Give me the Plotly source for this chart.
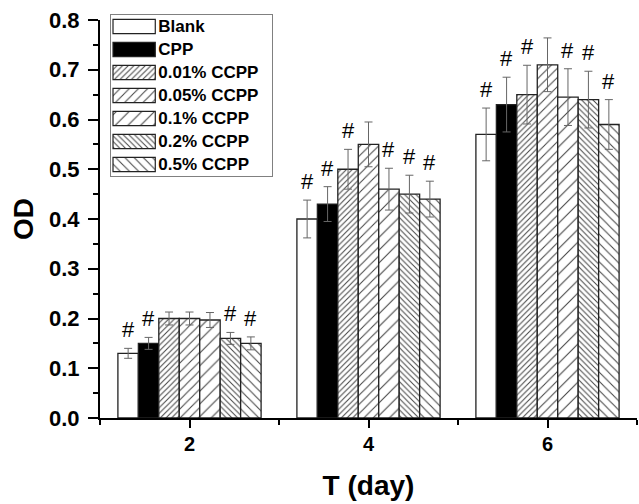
import plotly.graph_objects as go

# ---------------- data ----------------
days = [2, 4, 6]
groups = ["Blank", "CPP", "0.01% CCPP", "0.05% CCPP", "0.1% CCPP", "0.2% CCPP", "0.5% CCPP"]

od_blank = [0.13, 0.40, 0.57]
od_cpp = [0.15, 0.43, 0.63]
od_c001 = [0.20, 0.50, 0.65]
od_c005 = [0.20, 0.55, 0.71]
od_c01 = [0.197, 0.46, 0.645]
od_c02 = [0.16, 0.45, 0.64]
od_c05 = [0.15, 0.44, 0.59]

err_blank = [0.010, 0.038, 0.053]
err_cpp = [0.012, 0.035, 0.055]
err_c001 = [0.013, 0.040, 0.059]
err_c005 = [0.013, 0.045, 0.054]
err_c01 = [0.015, 0.042, 0.057]
err_c02 = [0.012, 0.038, 0.057]
err_c05 = [0.013, 0.036, 0.050]

# significance marks ("#") per group, per day
hash_blank = [True, True, True]
hash_cpp = [True, True, True]
hash_c001 = [False, True, True]
hash_c005 = [False, False, False]
hash_c01 = [False, True, True]
hash_c02 = [True, True, True]
hash_c05 = [True, True, True]

values = [od_blank, od_cpp, od_c001, od_c005, od_c01, od_c02, od_c05]
errors = [err_blank, err_cpp, err_c001, err_c005, err_c01, err_c02, err_c05]
hashes = [hash_blank, hash_cpp, hash_c001, hash_c005, hash_c01, hash_c02, hash_c05]

y_ticks = [0.0, 0.1, 0.2, 0.3, 0.4, 0.5, 0.6, 0.7, 0.8]
x_ticks = [2, 4, 6]

# ---------------- styles ----------------
FONT = "Liberation Sans, Arial, sans-serif"
fill_colors = ["white", "black", "white", "white", "white", "white", "white"]
pat_shapes = ["", "", "/", "/", "/", "\\", "\\"]
pat_sizes = [8, 8, 4, 6.5, 9, 4, 6.5]
pat_solid = [0.3, 0.3, 0.25, 0.16, 0.12, 0.25, 0.16]
BARGAP = 0.2


def bar_marker(col, shp, sz, sol, lw):
    m = dict(color=col, line=dict(color="#222222", width=lw))
    if shp:
        m["pattern"] = dict(shape=shp, size=sz, solidity=sol,
                            fgcolor="#444444", bgcolor=col, fillmode="replace")
    return m


fig = go.Figure()

for name, vals, errs, col, shp, sz, sol in zip(groups, values, errors, fill_colors,
                                               pat_shapes, pat_sizes, pat_solid):
    fig.add_trace(go.Bar(
        x=days, y=vals, name=name,
        marker=bar_marker(col, shp, sz, sol, 1.3),
        error_y=dict(type="data", array=errs, visible=True, color="#666666",
                     thickness=1, width=4),
        showlegend=False,
    ))

# "#" markers above error bars
n = len(groups)
group_width = 2 * (1 - BARGAP)
bar_w = group_width / n
for i, (vals, errs, marks) in enumerate(zip(values, errors, hashes)):
    for d, v, e, m in zip(days, vals, errs, marks):
        if m:
            fig.add_annotation(
                x=d + (i - (n - 1) / 2) * bar_w, y=v + e, xref="x", yref="y",
                text="#", showarrow=False, yanchor="bottom", yshift=4,
                font=dict(family=FONT, size=22, color="black"))

# custom legend drawn on a small overlay axis
for name, col, shp, sz, sol in zip(groups, fill_colors, pat_shapes, pat_sizes, pat_solid):
    fig.add_trace(go.Bar(
        x=[1], y=[name], orientation="h", xaxis="x2", yaxis="y2",
        width=0.62, offsetgroup="legend",
        marker=bar_marker(col, shp, sz, sol, 1.2),
        text=[name], textposition="outside", constraintext="none", cliponaxis=False,
        textfont=dict(family=FONT, size=17, color="black", weight="bold"),
        showlegend=False, hoverinfo="skip",
    ))

H_PLOT = 504 - 15 - 86
fig.update_layout(
    template="none",
    width=639, height=504,
    margin=dict(l=100, r=2, t=15, b=86),
    plot_bgcolor="white", paper_bgcolor="white",
    barmode="group", bargap=BARGAP, bargroupgap=0,
    font=dict(family=FONT, color="black"),
    xaxis=dict(range=[1, 7], tickmode="array", tickvals=x_ticks, ticktext=[str(t) for t in x_ticks],
               automargin=False,
               showline=True, linecolor="black", linewidth=2, showgrid=False, zeroline=False,
               ticks="outside", ticklen=8, tickwidth=2, tickcolor="black",
               ticklabelstandoff=-1,
               minor=dict(tickmode="array", tickvals=[1, 3, 5, 7], ticks="outside", ticklen=5,
                          tickwidth=2, tickcolor="black"),
               tickfont=dict(family=FONT, size=20, color="black", weight="bold"),
               title=dict(text="<b>T (day)</b>", font=dict(family=FONT, size=28, color="black"),
                          standoff=21)),
    yaxis=dict(range=[0, 0.8], domain=[0, 398 / H_PLOT], tickmode="array", tickvals=y_ticks,
               ticktext=[f"{t:.1f}" for t in y_ticks],
               automargin=False,
               showline=True, linecolor="black", linewidth=2, showgrid=False, zeroline=False,
               ticks="outside", ticklen=10, tickwidth=2, tickcolor="black",
               ticklabelstandoff=4,
               minor=dict(dtick=0.05, tick0=0, ticks="outside", ticklen=5, tickwidth=2,
                          tickcolor="black"),
               tickfont=dict(family=FONT, size=22, color="black", weight="bold"),
               title=dict(text="<b>OD</b>", font=dict(family=FONT, size=28, color="black"),
                          standoff=7)),
    xaxis2=dict(domain=[11 / 537, 172 / 537], anchor="y2", range=[-2 / 42, 158 / 42],
                automargin=False,
                showline=True, mirror=True, linecolor="#808080", linewidth=1,
                showgrid=False, zeroline=False, showticklabels=False, ticks=""),
    yaxis2=dict(domain=[(418 - 176) / H_PLOT, 1.0], anchor="x2", type="category",
                autorange="reversed", automargin=False,
                showline=True, mirror=True, linecolor="#808080", linewidth=1,
                showgrid=False, zeroline=False, showticklabels=False, ticks=""),
)

fig.write_html("out.html", config={"displayModeBar": False},
               post_script="document.body.style.margin='0';document.body.style.overflow='hidden';")
